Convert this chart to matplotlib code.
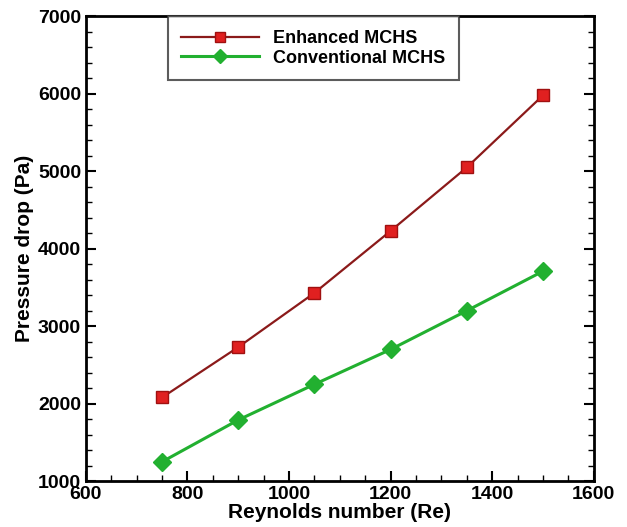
import matplotlib
matplotlib.use('Agg')
import matplotlib.pyplot as plt
from matplotlib.ticker import MultipleLocator

plt.rcParams['font.family'] = ['Liberation Sans', 'DejaVu Sans']
plt.rcParams['font.weight'] = 'bold'

reynolds = [750, 900, 1050, 1200, 1350, 1500]
enhanced = [2080, 2730, 3430, 4230, 5050, 5980]
conventional = [1250, 1790, 2250, 2700, 3200, 3710]

fig = plt.figure(figsize=(6.27, 5.27), dpi=100)
ax = fig.add_axes([0.137, 0.087, 0.810, 0.882])

ax.plot(reynolds, enhanced, color='#8b1a1a', lw=1.6, marker='s', ms=9,
        mfc='#e02020', mec='#a01010', label='Enhanced MCHS')
ax.plot(reynolds, conventional, color='#22b030', lw=2.2, marker='D', ms=9,
        mfc='#22b030', mec='#22b030', label='Conventional MCHS')

ax.set_xlim(600, 1600)
ax.set_ylim(1000, 7000)
ax.xaxis.set_major_locator(MultipleLocator(200))
ax.xaxis.set_minor_locator(MultipleLocator(50))
ax.yaxis.set_major_locator(MultipleLocator(1000))
ax.yaxis.set_minor_locator(MultipleLocator(200))
ax.tick_params(which='both', direction='in', top=False, right=True,
               labelsize=14, width=1.5)
ax.tick_params(which='major', length=7)
ax.tick_params(which='minor', length=4, width=1)
for s in ax.spines.values():
    s.set_linewidth(2)

ax.set_xlabel('Reynolds number (Re)', fontsize=15, fontweight='bold', labelpad=0)
ax.set_ylabel('Pressure drop (Pa)', fontsize=15, fontweight='bold', labelpad=3)

leg = ax.legend(loc='upper left', bbox_to_anchor=(0.161, 1.0), fontsize=13,
                frameon=True, fancybox=False, edgecolor='#333333',
                handlelength=4.3, borderpad=0.75, labelspacing=0.15,
                markerscale=0.8, borderaxespad=0)
leg.get_frame().set_linewidth(1.5)

fig.savefig('out.png', dpi=100)
